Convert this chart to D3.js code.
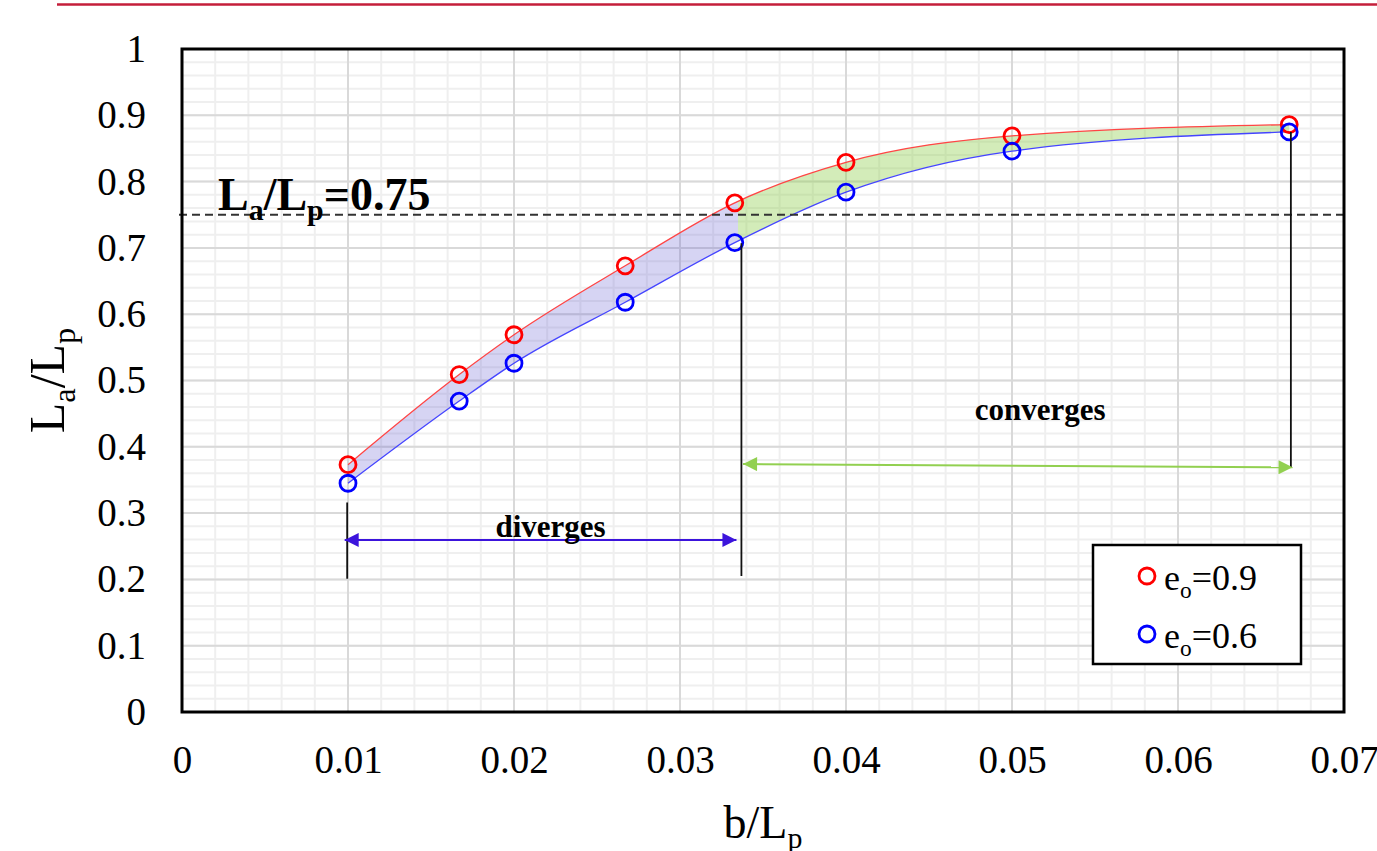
<!DOCTYPE html>
<html>
<head>
<meta charset="utf-8">
<script src="https://cdn.jsdelivr.net/npm/d3@7"></script>
<style>
  body { margin: 0; background: #fff; }
  svg { display: block; font-family: "Liberation Serif", "Times New Roman", serif; }
</style>
</head>
<body>
<div id="chart"></div>
<script>
// data
var bRatio = [0.01, 0.0167, 0.02, 0.0267, 0.0333, 0.04, 0.05, 0.0667];
var laE09 = [0.373, 0.509, 0.569, 0.673, 0.768, 0.829, 0.869, 0.886];
var laE06 = [0.345, 0.469, 0.526, 0.618, 0.708, 0.784, 0.846, 0.875];
var xTicks = [0, 0.01, 0.02, 0.03, 0.04, 0.05, 0.06, 0.07];
var yTicks = [0, 0.1, 0.2, 0.3, 0.4, 0.5, 0.6, 0.7, 0.8, 0.9, 1];
var seriesNames = ["0.9", "0.6"];
var threshold = 0.75;
var splitB = 0.0335;

var W = 1377, H = 851;
var margin = {top: 49, right: 33, bottom: 139, left: 182};
var width = W - margin.left - margin.right,
    height = H - margin.top - margin.bottom;

var svg = d3.select("#chart").append("svg")
  .attr("width", W)
  .attr("height", H);

// red rule at the top of the page
svg.append("line")
  .attr("x1", 57).attr("x2", W)
  .attr("y1", 4.5).attr("y2", 4.5)
  .attr("stroke", "#c41e3a")
  .attr("stroke-width", 2.5);

var g = svg.append("g").attr("transform", "translate(" + margin.left + "," + margin.top + ")");

var x = d3.scaleLinear().domain([0, 0.07]).range([0, width]);
var y = d3.scaleLinear().domain([0, 1]).range([height, 0]);

// grid: minor then major
var minorX = d3.range(0, 71, 2).map(function(d) { return d / 1000; });
var minorY = d3.range(0, 51, 1).map(function(d) { return d / 50; });

g.append("g").selectAll("line").data(minorX).enter().append("line")
  .attr("x1", function(d) { return x(d); }).attr("x2", function(d) { return x(d); })
  .attr("y1", 0).attr("y2", height)
  .attr("stroke", "#efefef").attr("stroke-width", 2);
g.append("g").selectAll("line").data(minorY).enter().append("line")
  .attr("y1", function(d) { return y(d); }).attr("y2", function(d) { return y(d); })
  .attr("x1", 0).attr("x2", width)
  .attr("stroke", "#efefef").attr("stroke-width", 2);
g.append("g").selectAll("line").data(xTicks).enter().append("line")
  .attr("x1", function(d) { return x(d); }).attr("x2", function(d) { return x(d); })
  .attr("y1", 0).attr("y2", height)
  .attr("stroke", "#d9d9d9").attr("stroke-width", 2);
g.append("g").selectAll("line").data(yTicks).enter().append("line")
  .attr("y1", function(d) { return y(d); }).attr("y2", function(d) { return y(d); })
  .attr("x1", 0).attr("x2", width)
  .attr("stroke", "#d9d9d9").attr("stroke-width", 2);

// bands between the two curves
var rows = bRatio.map(function(b, i) { return {b: b, hi: laE09[i], lo: laE06[i]}; });
var curve = d3.curveMonotoneX;

var area = d3.area()
  .curve(curve)
  .x(function(d) { return x(d.b); })
  .y0(function(d) { return y(d.lo); })
  .y1(function(d) { return y(d.hi); });

var defs = svg.append("defs");
defs.append("clipPath").attr("id", "clipDiv").append("rect")
  .attr("x", 0).attr("y", 0)
  .attr("width", x(splitB)).attr("height", height);
defs.append("clipPath").attr("id", "clipConv").append("rect")
  .attr("x", x(splitB)).attr("y", 0)
  .attr("width", width - x(splitB)).attr("height", height);

g.append("path").datum(rows)
  .attr("d", area)
  .attr("fill", "rgba(105,95,210,0.27)")
  .attr("clip-path", "url(#clipDiv)");
g.append("path").datum(rows)
  .attr("d", area)
  .attr("fill", "rgba(146,208,80,0.4)")
  .attr("clip-path", "url(#clipConv)");

var lineHi = d3.line().curve(curve)
  .x(function(d) { return x(d.b); })
  .y(function(d) { return y(d.hi); });
var lineLo = d3.line().curve(curve)
  .x(function(d) { return x(d.b); })
  .y(function(d) { return y(d.lo); });

g.append("path").datum(rows).attr("d", lineHi)
  .attr("fill", "none").attr("stroke", "#ff4545").attr("stroke-width", 1.3);
g.append("path").datum(rows).attr("d", lineLo)
  .attr("fill", "none").attr("stroke", "#4545ff").attr("stroke-width", 1.3);

// threshold line
g.append("line")
  .attr("x1", -3).attr("x2", width)
  .attr("y1", y(threshold)).attr("y2", y(threshold))
  .attr("stroke", "#333").attr("stroke-width", 2)
  .attr("stroke-dasharray", "8,5");

// markers
g.append("g").selectAll("circle").data(rows).enter().append("circle")
  .attr("cx", function(d) { return x(d.b); })
  .attr("cy", function(d) { return y(d.hi); })
  .attr("r", 8)
  .attr("fill", "none").attr("stroke", "#ff0000").attr("stroke-width", 2.8);
g.append("g").selectAll("circle").data(rows).enter().append("circle")
  .attr("cx", function(d) { return x(d.b); })
  .attr("cy", function(d) { return y(d.lo); })
  .attr("r", 8)
  .attr("fill", "none").attr("stroke", "#0000ff").attr("stroke-width", 2.8);

// annotation lines and arrows
function vline(b, v0, v1) {
  g.append("line")
    .attr("x1", x(b)).attr("x2", x(b))
    .attr("y1", y(v0)).attr("y2", y(v1))
    .attr("stroke", "#111").attr("stroke-width", 1.8);
}
vline(0.00995, 0.316, 0.201);
vline(0.0337, 0.707, 0.205);
vline(0.0668, 0.875, 0.369);

function marker(id, color) {
  defs.append("marker")
    .attr("id", id)
    .attr("viewBox", "0 -5 10 10")
    .attr("refX", 10).attr("refY", 0)
    .attr("markerWidth", 16).attr("markerHeight", 14)
    .attr("markerUnits", "userSpaceOnUse")
    .attr("orient", "auto-start-reverse")
    .append("path")
      .attr("d", "M0,-5L10,0L0,5Z")
      .attr("fill", color);
}
marker("arrBlue", "#3c14dc");
marker("arrGreen", "#92d050");

g.append("line")
  .attr("x1", x(0.0098)).attr("y1", y(0.2595))
  .attr("x2", x(0.0334)).attr("y2", y(0.2595))
  .attr("stroke", "#3c14dc").attr("stroke-width", 2)
  .attr("marker-start", "url(#arrBlue)")
  .attr("marker-end", "url(#arrBlue)");
g.append("line")
  .attr("x1", x(0.0338)).attr("y1", y(0.374))
  .attr("x2", x(0.0669)).attr("y2", y(0.369))
  .attr("stroke", "#92d050").attr("stroke-width", 2)
  .attr("marker-start", "url(#arrGreen)")
  .attr("marker-end", "url(#arrGreen)");

g.append("text")
  .attr("x", x(0.0222)).attr("y", y(0.264))
  .attr("text-anchor", "middle")
  .attr("font-size", 31).attr("font-weight", "bold")
  .text("diverges");
g.append("text")
  .attr("x", x(0.0517)).attr("y", y(0.440))
  .attr("text-anchor", "middle")
  .attr("font-size", 31).attr("font-weight", "bold")
  .text("converges");

// text with subscripts
function richText(sel, parts, size) {
  parts.forEach(function(p) {
    var t = sel.append("tspan").text(p.t);
    if (p.sub) {
      t.attr("font-size", size * 0.65).attr("dy", size * 0.22);
    } else if (p.after) {
      t.attr("dy", -size * 0.22);
    }
  });
  return sel;
}

richText(g.append("text")
  .attr("x", 36).attr("y", y(0.75) - 5)
  .attr("font-size", 46).attr("font-weight", "bold"),
  [{t: "L"}, {t: "a", sub: true}, {t: "/L", after: true}, {t: "p", sub: true}, {t: "=0.75", after: true}], 46);

// axes
var xAxis = g.append("g")
  .attr("transform", "translate(0," + height + ")")
  .call(d3.axisBottom(x).tickValues(xTicks).tickSize(0).tickPadding(0)
    .tickFormat(function(d) { return d === 0 ? "0" : d3.format(".2f")(d); }));
xAxis.select(".domain").remove();
xAxis.selectAll("text")
  .attr("font-family", "\"Liberation Serif\", \"Times New Roman\", serif")
  .attr("font-size", 39).attr("fill", "#000")
  .attr("dy", null).attr("y", 61);

var yAxis = g.append("g")
  .call(d3.axisLeft(y).tickValues(yTicks).tickSize(0).tickPadding(36)
    .tickFormat(function(d) { return d3.format("")(+d.toFixed(1)); }));
yAxis.select(".domain").remove();
yAxis.selectAll("text")
  .attr("font-family", "\"Liberation Serif\", \"Times New Roman\", serif")
  .attr("font-size", 39).attr("fill", "#000");

// frame
g.append("rect")
  .attr("x", 0).attr("y", 0)
  .attr("width", width).attr("height", height)
  .attr("fill", "none").attr("stroke", "#000").attr("stroke-width", 3);

// axis titles
richText(svg.append("text")
  .attr("x", margin.left + width / 2).attr("y", 838)
  .attr("text-anchor", "middle")
  .attr("font-size", 46),
  [{t: "b/L"}, {t: "p", sub: true}], 46);

richText(svg.append("text")
  .attr("transform", "translate(64," + (margin.top + height / 2) + ") rotate(-90)")
  .attr("text-anchor", "middle")
  .attr("font-size", 50),
  [{t: "L"}, {t: "a", sub: true}, {t: "/L", after: true}, {t: "p", sub: true}], 50);

// legend
var legend = svg.append("g").attr("transform", "translate(1093,545)");
legend.append("rect")
  .attr("width", 208).attr("height", 119)
  .attr("fill", "#fff").attr("stroke", "#000").attr("stroke-width", 2.5);
var legColors = ["#ff0000", "#0000ff"];
seriesNames.forEach(function(name, i) {
  var row = legend.append("g").attr("transform", "translate(0," + (31 + i * 58) + ")");
  row.append("circle")
    .attr("cx", 54).attr("cy", 0).attr("r", 8)
    .attr("fill", "none").attr("stroke", legColors[i]).attr("stroke-width", 2.8);
  richText(row.append("text")
    .attr("x", 71).attr("y", 14)
    .attr("font-size", 36),
    [{t: "e"}, {t: "o", sub: true}, {t: "=" + name, after: true}], 36);
});
</script>
</body>
</html>
